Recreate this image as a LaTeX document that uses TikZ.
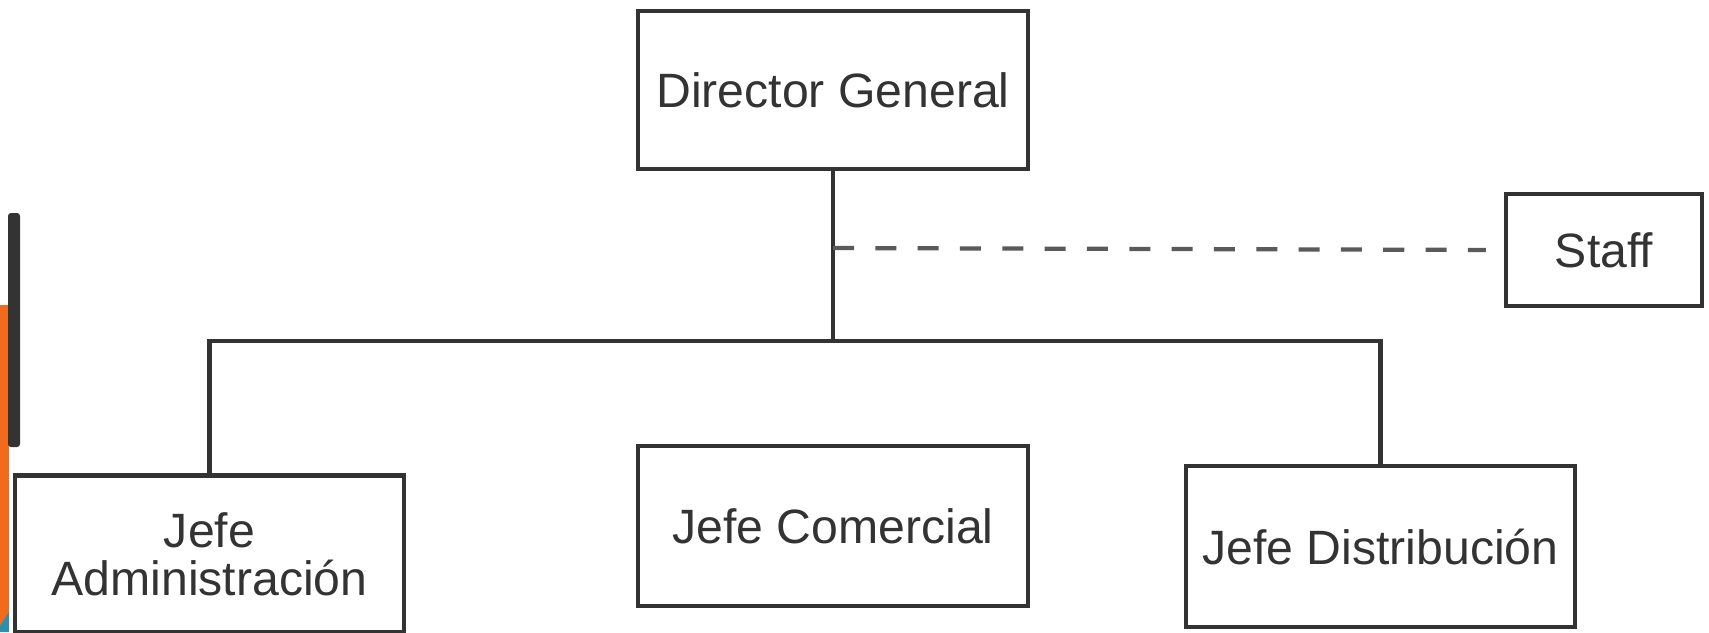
\documentclass[tikz,border=0pt]{standalone}
\usepackage{fontspec}
\setmainfont{Liberation Sans}
\usepackage{xcolor}
\usepackage{tikz}
\usetikzlibrary{positioning,calc}
\definecolor{OrgInk}{HTML}{333333}
\definecolor{OrgDash}{HTML}{5A5A5A}
\definecolor{SlideOrange}{HTML}{F26A1B}
\definecolor{SlideDark}{HTML}{333333}
\definecolor{SlideTeal}{HTML}{2F8FAA}
\tikzset{
  orgbox/.style={draw=OrgInk,line width=1.2pt,align=center,inner sep=0pt,fill=white,text=OrgInk,font=\fontsize{13.7}{13.6}\selectfont},
  orgline/.style={line width=1.2pt,draw=OrgInk},
  stafflink/.style={line width=1.2pt,draw=OrgDash,dash pattern=on 0.21cm off 0.213cm,shorten >=0.18cm}
}
\begin{document}
\begin{tikzpicture}[x=0.01cm,y=-0.01cm]
\useasboundingbox (0,0) rectangle (1709,632);
\fill[white] (0,0) rectangle (1709,632);
% slide edge
\fill[SlideOrange] (0,305) rectangle (9,632);
\fill[SlideTeal] (0,626) -- (9,612) -- (9,632) -- (0,632) -- cycle;
\fill[SlideDark,rounded corners=0.03cm] (8,213) rectangle (20,447);
% boxes
\node[orgbox,minimum width=3.9cm,minimum height=1.58cm] (dg) at (833,90) {Director General};
\node[orgbox,minimum width=1.96cm,minimum height=1.12cm] (staff) at (1604,250) {Staff};
\node[orgbox,minimum width=3.89cm,minimum height=1.57cm] (jadm) at (209.5,554) {Jefe\\Administración};
\node[orgbox,minimum width=3.9cm,minimum height=1.6cm] (jcom) at (833,526) {Jefe Comercial};
\node[orgbox,minimum width=3.89cm,minimum height=1.61cm] (jdis) at (1380.5,546.5) {Jefe Distribución};
\coordinate (bus) at (833,341);
\coordinate (tap) at (833,248);
% links
\draw[orgline] (dg.south) -- (bus);
\draw[orgline] (jadm.north) |- (bus) -| (jdis.north);
\draw[stafflink] (tap) -- (staff.west);
\end{tikzpicture}
\end{document}
